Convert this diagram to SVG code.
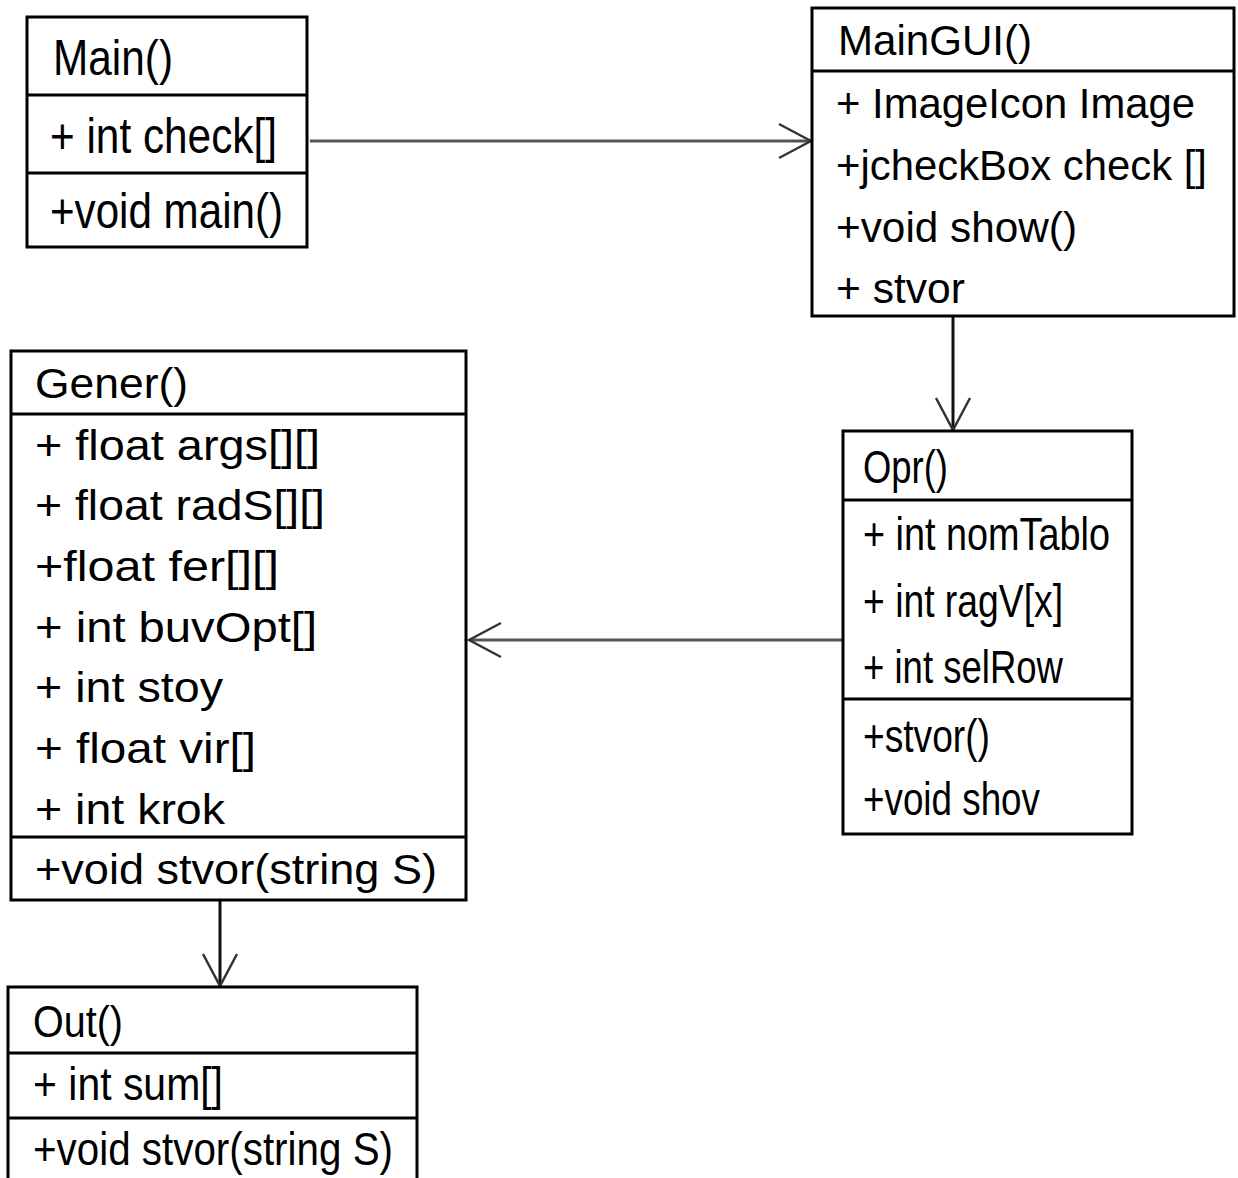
<svg xmlns="http://www.w3.org/2000/svg" width="1238" height="1178" viewBox="0 0 1238 1178">
<style>
.box{fill:#fff;stroke:#000;stroke-width:3}
.div{stroke:#000;stroke-width:3}
.t{font-family:"Liberation Sans",Arial,sans-serif;fill:#000}
.conn{stroke:#555;stroke-width:3;fill:none}
.connv{stroke:#111;stroke-width:3;fill:none}
</style>
<defs>
<marker id="open" viewBox="-36 -20 38 40" refX="0" refY="0" markerWidth="38" markerHeight="40" markerUnits="userSpaceOnUse" orient="auto">
<path d="M-32,-17 L0,0 L-32,17" fill="none" stroke="#333" stroke-width="2.5"/>
</marker>
</defs>
<rect width="1238" height="1178" fill="#fff"/>
<g id="connectors">
<line class="conn" x1="310" y1="141" x2="811" y2="141" marker-end="url(#open)"/>
<line class="connv" x1="953" y1="317" x2="953" y2="430" marker-end="url(#open)"/>
<line class="conn" x1="843" y1="640" x2="469" y2="640" marker-end="url(#open)"/>
<line class="connv" x1="220" y1="901" x2="220" y2="986" marker-end="url(#open)"/>
</g>
<g id="Main">
<rect class="box" x="27" y="17" width="280" height="230"/>
<line class="div" x1="27" y1="95" x2="307" y2="95"/>
<line class="div" x1="27" y1="173" x2="307" y2="173"/>
<text class="t" font-size="50" x="53" y="75" textLength="120" lengthAdjust="spacingAndGlyphs">Main()</text>
<text class="t" font-size="50" x="50" y="153" textLength="227" lengthAdjust="spacingAndGlyphs">+ int check[]</text>
<text class="t" font-size="50" x="50" y="228" textLength="233" lengthAdjust="spacingAndGlyphs">+void main()</text>
</g>
<g id="MainGUI">
<rect class="box" x="812" y="8" width="422" height="308"/>
<line class="div" x1="812" y1="71" x2="1234" y2="71"/>
<text class="t" font-size="42" x="838" y="55" textLength="194" lengthAdjust="spacingAndGlyphs">MainGUI()</text>
<text class="t" font-size="42" x="836" y="118" textLength="359" lengthAdjust="spacingAndGlyphs">+ ImageIcon Image</text>
<text class="t" font-size="42" x="836" y="180" textLength="371" lengthAdjust="spacingAndGlyphs">+jcheckBox check []</text>
<text class="t" font-size="42" x="836" y="242" textLength="241" lengthAdjust="spacingAndGlyphs">+void show()</text>
<text class="t" font-size="42" x="836" y="303" textLength="129" lengthAdjust="spacingAndGlyphs">+ stvor</text>
</g>
<g id="Opr">
<rect class="box" x="843" y="431" width="289" height="403"/>
<line class="div" x1="843" y1="500" x2="1132" y2="500"/>
<line class="div" x1="843" y1="699" x2="1132" y2="699"/>
<text class="t" font-size="46" x="863" y="483" textLength="85" lengthAdjust="spacingAndGlyphs">Opr()</text>
<text class="t" font-size="46" x="863" y="550" textLength="247" lengthAdjust="spacingAndGlyphs">+ int nomTablo</text>
<text class="t" font-size="46" x="863" y="617" textLength="200" lengthAdjust="spacingAndGlyphs">+ int ragV[x]</text>
<text class="t" font-size="46" x="863" y="683" textLength="200" lengthAdjust="spacingAndGlyphs">+ int selRow</text>
<text class="t" font-size="46" x="863" y="752" textLength="127" lengthAdjust="spacingAndGlyphs">+stvor()</text>
<text class="t" font-size="46" x="863" y="815" textLength="177" lengthAdjust="spacingAndGlyphs">+void shov</text>
</g>
<g id="Gener">
<rect class="box" x="11" y="351" width="455" height="549"/>
<line class="div" x1="11" y1="414" x2="466" y2="414"/>
<line class="div" x1="11" y1="837" x2="466" y2="837"/>
<text class="t" font-size="42" x="35" y="398" textLength="153" lengthAdjust="spacingAndGlyphs">Gener()</text>
<text class="t" font-size="42" x="35" y="460" textLength="285" lengthAdjust="spacingAndGlyphs">+ float args[][]</text>
<text class="t" font-size="42" x="35" y="520" textLength="290" lengthAdjust="spacingAndGlyphs">+ float radS[][]</text>
<text class="t" font-size="42" x="35" y="581" textLength="244" lengthAdjust="spacingAndGlyphs">+float fer[][]</text>
<text class="t" font-size="42" x="35" y="642" textLength="282" lengthAdjust="spacingAndGlyphs">+ int buvOpt[]</text>
<text class="t" font-size="42" x="35" y="702" textLength="188" lengthAdjust="spacingAndGlyphs">+ int stoy</text>
<text class="t" font-size="42" x="35" y="763" textLength="221" lengthAdjust="spacingAndGlyphs">+ float vir[]</text>
<text class="t" font-size="42" x="35" y="824" textLength="190" lengthAdjust="spacingAndGlyphs">+ int krok</text>
<text class="t" font-size="42" x="35" y="884" textLength="402" lengthAdjust="spacingAndGlyphs">+void stvor(string S)</text>
</g>
<g id="Out">
<rect class="box" x="8" y="987" width="409" height="230"/>
<line class="div" x1="8" y1="1053" x2="417" y2="1053"/>
<line class="div" x1="8" y1="1118" x2="417" y2="1118"/>
<text class="t" font-size="45" x="33" y="1037" textLength="90" lengthAdjust="spacingAndGlyphs">Out()</text>
<text class="t" font-size="46" x="33" y="1100" textLength="190" lengthAdjust="spacingAndGlyphs">+ int sum[]</text>
<text class="t" font-size="46" x="33" y="1165" textLength="360" lengthAdjust="spacingAndGlyphs">+void stvor(string S)</text>
</g>
</svg>
